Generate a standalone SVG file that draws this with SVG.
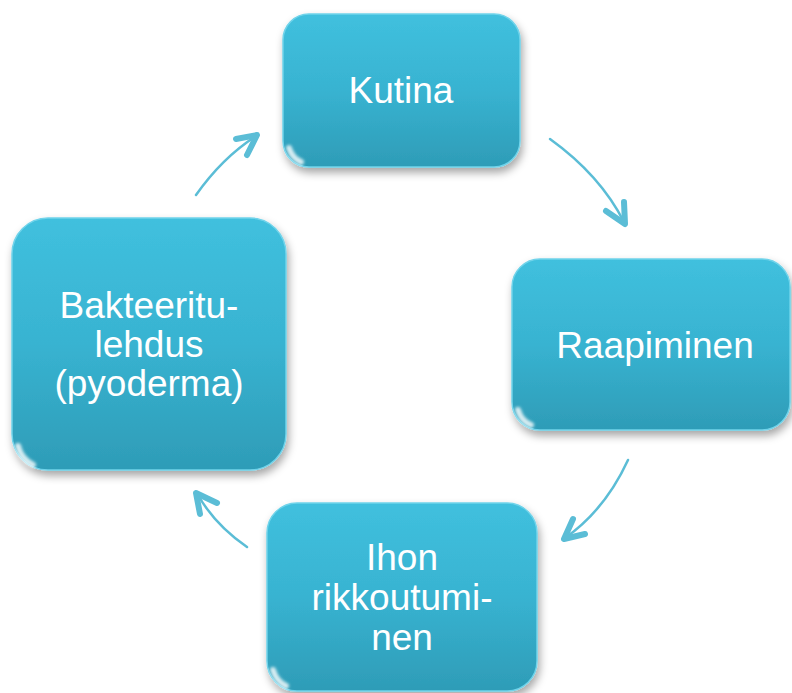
<svg xmlns="http://www.w3.org/2000/svg" width="792" height="693" viewBox="0 0 792 693">
<defs>
<linearGradient id="boxFill" x1="0" y1="0" x2="0" y2="1">
<stop offset="0" stop-color="#40C0DE"/>
<stop offset="0.5" stop-color="#38B3D1"/>
<stop offset="1" stop-color="#2E9CB7"/>
</linearGradient>
<linearGradient id="topGloss" x1="0" y1="0" x2="0" y2="1">
<stop offset="0" stop-color="#FFFFFF" stop-opacity="0.55"/>
<stop offset="1" stop-color="#FFFFFF" stop-opacity="0"/>
</linearGradient>
<filter id="shadow" x="-10%" y="-10%" width="125%" height="130%">
<feDropShadow dx="2" dy="5" stdDeviation="4" flood-color="#000" flood-opacity="0.35"/>
</filter>
<filter id="soft" x="-50%" y="-50%" width="200%" height="200%">
<feGaussianBlur stdDeviation="1.5"/>
</filter>
</defs>
<style>
.box{fill:url(#boxFill);stroke:#6FD3EA;stroke-width:1.5;filter:url(#shadow)}
.gloss{fill:none;stroke:url(#topGloss);stroke-width:4}
.gleam{fill:none;stroke:#FFFFFF;stroke-opacity:0.8;stroke-width:6;stroke-linecap:round;filter:url(#soft)}
.lbl{font-family:"Liberation Sans",Arial,sans-serif;font-size:37px;fill:#FFFFFF;text-anchor:middle}
.shaft{fill:none;stroke:#5BBDD6;stroke-width:2.5;stroke-linecap:round}
.head{fill:none;stroke:#5BBDD6;stroke-width:6;stroke-linecap:round;stroke-linejoin:round}
</style>
<g id="connectors">
<path class="shaft" d="M550,139 Q600,175 624,222"/>
<path class="head" d="M606,211 L625,224 L624,202"/>
<path class="shaft" d="M628,460 Q605,510 565,538"/>
<path class="head" d="M573,519 L564,539 L585,534"/>
<path class="shaft" d="M247,547 Q215,525 198,495"/>
<path class="head" d="M200,514 L196,493 L217,503"/>
<path class="shaft" d="M196,195 Q222,158 256,136"/>
<path class="head" d="M236,139 L257,135 L247,155"/>
</g>
<g id="kutina">
<rect class="box" x="283" y="14" width="237" height="153" rx="26"/>
<path class="gloss" d="M300,20 H503"/>
<path class="gleam" d="M289,148 Q292,158 301,162"/>
<text class="lbl" x="401" y="103">Kutina</text>
</g>
<g id="raapiminen">
<rect class="box" x="512" y="259" width="278" height="171" rx="28"/>
<path class="gloss" d="M530,265 H772"/>
<path class="gleam" d="M518,410 Q521,421 531,425"/>
<text class="lbl" x="655" y="358">Raapiminen</text>
</g>
<g id="ihon">
<rect class="box" x="267" y="503" width="270" height="188" rx="30"/>
<path class="gloss" d="M287,509 H517"/>
<path class="gleam" d="M273,670 Q276,681 286,686"/>
<text class="lbl" x="402" y="570">Ihon</text>
<text class="lbl" x="402" y="610">rikkoutumi-</text>
<text class="lbl" x="402" y="650">nen</text>
</g>
<g id="bakteeri">
<rect class="box" x="12" y="218" width="274" height="252" rx="36"/>
<path class="gloss" d="M36,224 H262"/>
<path class="gleam" d="M18,446 Q21,459 33,465"/>
<text class="lbl" x="149" y="318">Bakteeritu-</text>
<text class="lbl" x="149" y="357">lehdus</text>
<text class="lbl" x="149" y="396">(pyoderma)</text>
</g>
</svg>
